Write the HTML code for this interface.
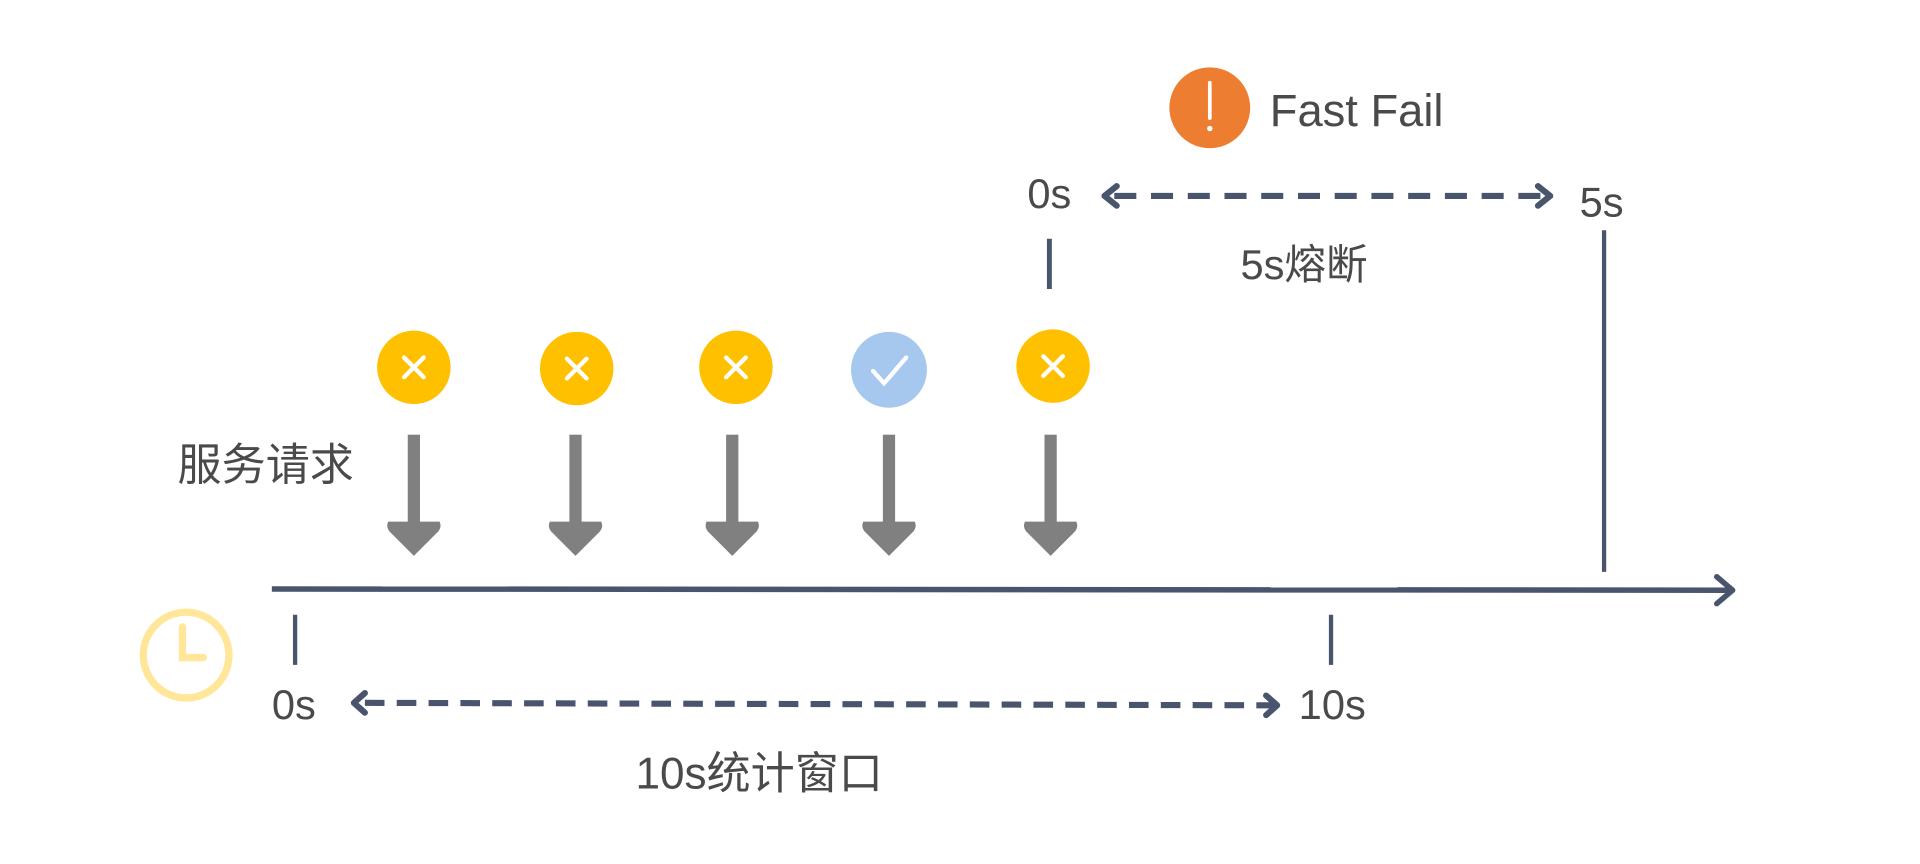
<!DOCTYPE html>
<html><head><meta charset="utf-8"><style>
html,body{margin:0;padding:0;background:#fff;}
svg{display:block;}
text{font-family:"Liberation Sans","Noto Sans CJK SC",sans-serif;fill:#4a4a4a;}
</style></head><body>
<svg width="1920" height="864" viewBox="0 0 1568 705.6" xmlns="http://www.w3.org/2000/svg">
<defs>
<g id="garrow"><rect x="-5" y="355" width="10" height="75" fill="#808080"/><path d="M-21,426 L21,426 Q23,430 20,434 L0,454 L-20,434 Q-23,430 -21,426 Z" fill="#808080"/></g>
</defs>
<!-- Fast Fail -->
<circle cx="988" cy="88" r="33" fill="#ed7d31"/>
<rect x="986.5" y="66" width="3" height="32" rx="1.5" fill="#fff"/>
<circle cx="988" cy="105" r="2.2" fill="#fff"/>
<text x="1037" y="103" font-size="37">Fast Fail</text>
<!-- top 5s segment -->
<text x="857" y="170" font-size="34" text-anchor="middle">0s</text>
<text x="1308" y="177" font-size="34" text-anchor="middle">5s</text>
<line x1="910" y1="160" x2="1262" y2="160" stroke="#48556d" stroke-width="5" stroke-dasharray="18,12"/>
<path d="M912,152 L902,160 L912,168" fill="none" stroke="#48556d" stroke-width="5" stroke-linecap="round" stroke-linejoin="round"/>
<path d="M1256,152 L1266,160 L1256,168" fill="none" stroke="#48556d" stroke-width="5" stroke-linecap="round" stroke-linejoin="round"/>
<line x1="857" y1="195" x2="857" y2="236" stroke="#48556d" stroke-width="4"/>
<line x1="1310" y1="188" x2="1310" y2="467" stroke="#48556d" stroke-width="3.5"/>
<text x="1065" y="228" font-size="34" text-anchor="middle">5s熔断</text>
<!-- status circles -->
<g stroke="#fff" stroke-width="3.5" stroke-linecap="round" fill="none">
<circle cx="338" cy="300" r="30" fill="#ffc000" stroke="none"/><path d="M330,292 L346,308 M346,292 L330,308"/>
<circle cx="471" cy="301" r="30" fill="#ffc000" stroke="none"/><path d="M463,293 L479,309 M479,293 L463,309"/>
<circle cx="601" cy="300" r="30" fill="#ffc000" stroke="none"/><path d="M593,292 L609,308 M609,292 L593,308"/>
<circle cx="726" cy="302" r="31" fill="#a6c8ee" stroke="none"/><path d="M713,303 L722,313 L740,292"/>
<circle cx="860" cy="299" r="30" fill="#ffc000" stroke="none"/><path d="M852,291 L868,307 M868,291 L852,307"/>
</g>
<text x="145" y="392" font-size="36">服务请求</text>
<use href="#garrow" x="338"/>
<use href="#garrow" x="470"/>
<use href="#garrow" x="598"/>
<use href="#garrow" x="726"/>
<use href="#garrow" x="858"/>
<!-- main axis -->
<line x1="222" y1="481" x2="1412" y2="482" stroke="#48556d" stroke-width="4.5"/>
<path d="M1402,471 L1415,482 L1402,493" fill="none" stroke="#48556d" stroke-width="4.5" stroke-linecap="round" stroke-linejoin="round"/>
<!-- clock -->
<circle cx="152" cy="535" r="35" fill="none" stroke="#ffe699" stroke-width="6"/>
<path d="M149,512 L149,537 L166,537" fill="none" stroke="#ffe699" stroke-width="6" stroke-linecap="round"/>
<!-- bottom -->
<line x1="241" y1="502" x2="241" y2="543" stroke="#48556d" stroke-width="3.5"/>
<line x1="1087" y1="502" x2="1087" y2="543" stroke="#48556d" stroke-width="3.5"/>
<text x="240" y="587" font-size="34" text-anchor="middle">0s</text>
<text x="1088" y="587" font-size="34" text-anchor="middle">10s</text>
<line x1="298" y1="574" x2="1040" y2="576" stroke="#48556d" stroke-width="5" stroke-dasharray="16,10"/>
<path d="M298,566 L289,574 L298,582" fill="none" stroke="#48556d" stroke-width="5" stroke-linecap="round" stroke-linejoin="round"/>
<path d="M1034,568 L1043,576 L1034,584" fill="none" stroke="#48556d" stroke-width="5" stroke-linecap="round" stroke-linejoin="round"/>
<text x="620" y="644" font-size="36" text-anchor="middle">10s统计窗口</text>
</svg>
</body></html>
